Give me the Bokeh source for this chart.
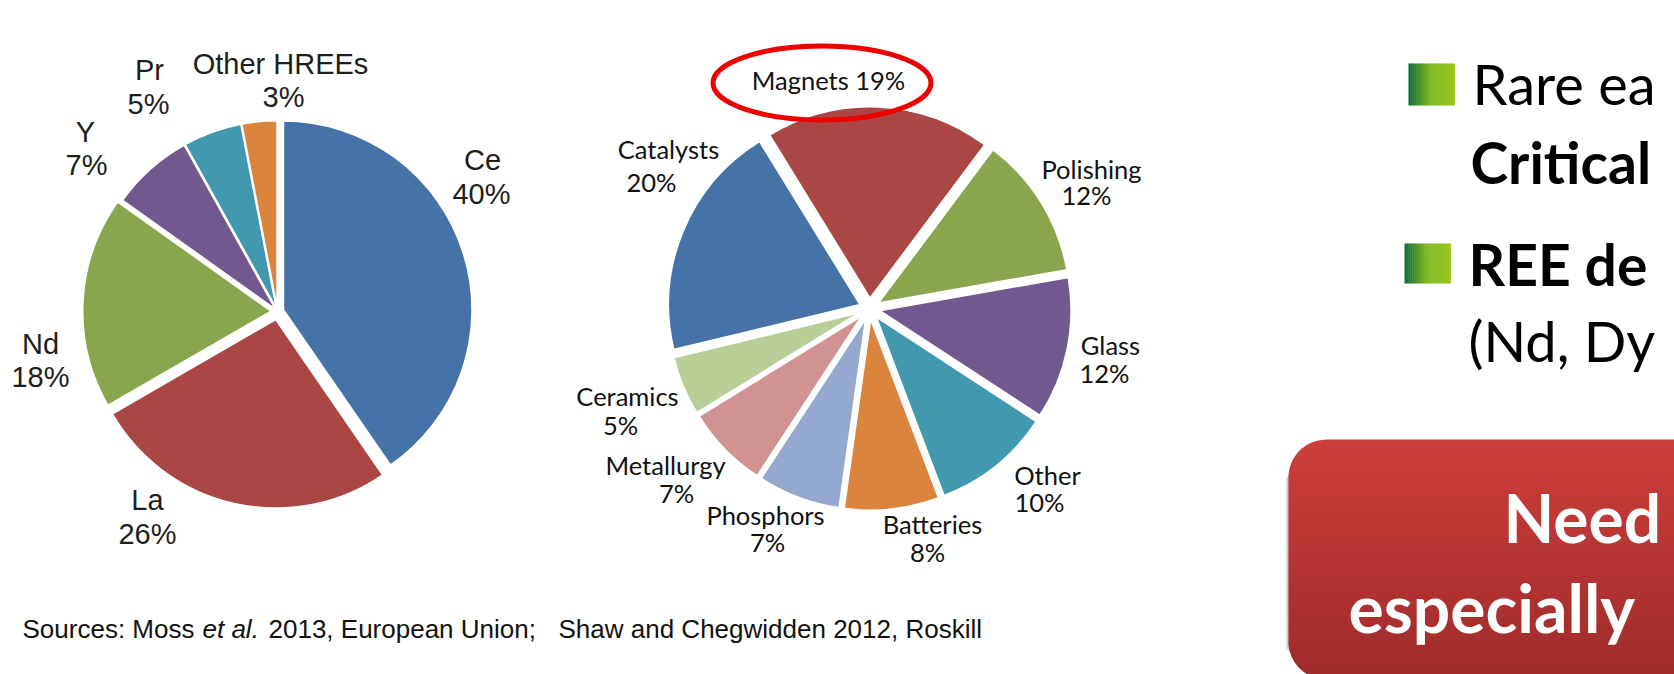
import numpy as np
from bokeh.plotting import figure
from bokeh.models import Range1d, ColumnDataSource
from bokeh.core.properties import value
from bokeh.embed import file_html
from bokeh.resources import INLINE

# ---------------- data ----------------
ree_elements = ["Ce", "La", "Nd", "Y", "Pr", "Other HREEs"]
ree_share = [40, 26, 18, 7, 5, 3]
ree_colors = ["#4572A7", "#AA4643", "#89A54E", "#71588F", "#4198AF", "#DB843D"]

use_names = ["Catalysts", "Magnets", "Polishing", "Glass", "Other",
             "Batteries", "Phosphors", "Metallurgy", "Ceramics"]
use_share = [20, 19, 12, 12, 10, 8, 7, 7, 5]
use_colors = ["#4572A7", "#AA4643", "#89A54E", "#71588F", "#4198AF",
              "#DB843D", "#93A9CF", "#D19392", "#B9CD96"]

source_note = ["Sources: Moss ", "et al.", "2013, European Union;", "Shaw and Chegwidden 2012, Roskill"]

bullet_lines = ["Rare ea", "Critical", "REE de", "(Nd, Dy"]
box_lines = ["Need", "especially"]

# ---------------- figure (data units == page pixels, y negated) ----------------
W, H = 1674, 674
p = figure(width=W, height=H, x_range=Range1d(0, W), y_range=Range1d(-H, 0),
           output_backend="svg", toolbar_location=None, min_border=0)
p.axis.visible = False
p.grid.visible = False
p.outline_line_color = None
p.background_fill_color = "white"
p.border_fill_color = "white"


def pie(values, colors, cx, cy, r, start_deg, explode):
    v = np.array(values, dtype=float)
    frac = v / v.sum()
    cum = np.concatenate([[0.0], np.cumsum(frac)])
    a0 = np.deg2rad(start_deg)
    starts = a0 - 2 * np.pi * cum[:-1]
    ends = a0 - 2 * np.pi * cum[1:]
    mids = (starts + ends) / 2
    ex = np.array(explode, dtype=float)
    src = ColumnDataSource(dict(x=cx + ex * np.cos(mids), y=-cy + ex * np.sin(mids),
                                start=starts, end=ends, color=colors))
    p.wedge(x="x", y="y", radius=r, start_angle="start", end_angle="end",
            direction="clock", fill_color="color", line_color="white", line_width=2,
            source=src)


# empirical baseline correction (fraction of font size)
BASE_FIX = {"Liberation Sans": 0.31, "Lato": 0.35}


def label(txt, x, y, font, size, align="center", style="normal", color="#111111"):
    fix = BASE_FIX[font] * size
    p.text(x=[x], y=[-(y - fix)], text=[txt], text_font=value(font),
           text_font_size=value(f"{size}px"),
           text_font_style=style, text_align=align, text_baseline="alphabetic",
           text_color=color)


# ---------------- left pie ----------------
pie(ree_share, ree_colors, 277, 311, 189, 90, [6, 8, 6, 2, 2, 2])
left_name_pos = [(482, 168), (147, 508), (40, 352), (85, 140), (149, 78), (280, 72)]
left_pct_pos = [(481, 202), (147, 542), (40, 385), (86, 173), (148, 112), (283, 105)]
for name, val, (nx, ny), (px_, py_) in zip(ree_elements, ree_share, left_name_pos, left_pct_pos):
    label(name, nx, ny, "Liberation Sans", 29, color="#1e1e1e")
    label(f"{val}%", px_, py_, "Liberation Sans", 29, color="#1e1e1e")

# ---------------- middle pie ----------------
pie(use_share, use_colors, 869, 308, 192, 193.6, [10] * len(use_share))
mid_name_pos = [(668, 157), (828, 88), (1091, 177), (1110, 353), (1047, 483),
                (932, 532), (765, 523), (665, 473), (627, 404)]
mid_pct_pos = [(651, 190), None, (1086, 203), (1104, 381), (1039, 510),
               (927, 560), (767, 550), (676, 501), (620, 433)]
for name, val, (nx, ny), pp in zip(use_names, use_share, mid_name_pos, mid_pct_pos):
    if pp is None:
        label(f"{name} {val}%", nx, ny, "Lato", 25.5, color="#111111")
    else:
        label(name, nx, ny, "Lato", 25.5, color="#111111")
        label(f"{val}%", pp[0], pp[1], "Lato", 25.5, color="#111111")

# red highlight ellipse around "Magnets"
p.ellipse(x=[821.5], y=[-82.5], width=[218], height=[74], fill_alpha=0,
          line_color="#ee0000", line_width=5)

# ---------------- footer ----------------
label(source_note[0], 22, 637, "Liberation Sans", 26, align="left", color="#111111")
label(source_note[1], 202, 637, "Liberation Sans", 26, align="left", style="italic", color="#111111")
label(source_note[2], 268, 637, "Liberation Sans", 26, align="left", color="#111111")
label(source_note[3], 558, 637, "Liberation Sans", 26, align="left", color="#111111")

# ---------------- right panel bullets ----------------
def gradient_square(x0, x1, y0, y1, n=24):
    stops = [(0.0, (10, 104, 52)), (0.45, (125, 182, 38)), (1.0, (156, 197, 28))]
    lefts, rights, cols = [], [], []
    for i in range(n):
        t = (i + 0.5) / n
        for (ta, ca), (tb, cb) in zip(stops[:-1], stops[1:]):
            if ta <= t <= tb:
                f = (t - ta) / (tb - ta)
                c = tuple(int(round(a + (b - a) * f)) for a, b in zip(ca, cb))
                break
        lefts.append(x0 + (x1 - x0) * i / n)
        rights.append(x0 + (x1 - x0) * (i + 1) / n + 0.4)
        cols.append("#%02x%02x%02x" % c)
    p.quad(left=lefts, right=rights, top=[-y0] * n, bottom=[-y1] * n,
           fill_color=cols, line_color=None)

gradient_square(1408, 1454, 63, 105)
gradient_square(1404, 1450, 243, 283)
label(bullet_lines[0], 1472, 103, "Lato", 56, align="left", color="#000000")
label(bullet_lines[1], 1470, 181, "Lato", 57, align="left", style="bold", color="#000000")
label(bullet_lines[2], 1468, 283, "Lato", 57, align="left", style="bold", color="#000000")
label(bullet_lines[3], 1468, 360, "Lato", 56, align="left", color="#000000")

# ---------------- red rounded box with vertical gradient ----------------
bx0, bx1, by0, by1, R = 1288, 1760, 439, 679, 38


def left_edge(y):
    if y < by0 + R:
        d = by0 + R - y
        return bx0 + R - np.sqrt(max(R * R - d * d, 0))
    if y > by1 - R:
        d = y - (by1 - R)
        return bx0 + R - np.sqrt(max(R * R - d * d, 0))
    return bx0


def strip_poly(ya, yb, dx=0.0, dy=0.0):
    ys = np.linspace(ya, yb, 8)
    xl = [left_edge(y) + dx for y in ys]
    xs = xl + [bx1 + dx, bx1 + dx]
    yy = [-(y + dy) for y in ys] + [-(yb + dy), -(ya + dy)]
    return xs, yy

# soft shadow
for dx, dy, a in [(-3, 4, 0.10), (-2, 3, 0.14), (-1, 2, 0.18)]:
    sx, sy = strip_poly(by0 + 2, by1, dx, dy)
    p.patch(sx, sy, fill_color="#555555", fill_alpha=a, line_color=None)

nstrip = 40
top_c, bot_c = (205, 62, 58), (158, 43, 42)
pxs, pys, pcs = [], [], []
for i in range(nstrip):
    ya = by0 + (by1 - by0) * i / nstrip
    yb = by0 + (by1 - by0) * (i + 1) / nstrip + 0.6
    t = (i + 0.5) / nstrip
    c = tuple(int(round(a + (b - a) * t)) for a, b in zip(top_c, bot_c))
    xs, yy = strip_poly(ya, min(yb, by1))
    pxs.append(xs)
    pys.append(yy)
    pcs.append("#%02x%02x%02x" % c)
p.patches(pxs, pys, fill_color=pcs, line_color=None)

label(box_lines[0], 1503, 540, "Lato", 66, align="left", style="bold", color="#ffffff")
label(box_lines[1], 1348, 630, "Lato", 66, align="left", style="bold", color="#ffffff")

open("out.html", "w").write(file_html(p, INLINE))
